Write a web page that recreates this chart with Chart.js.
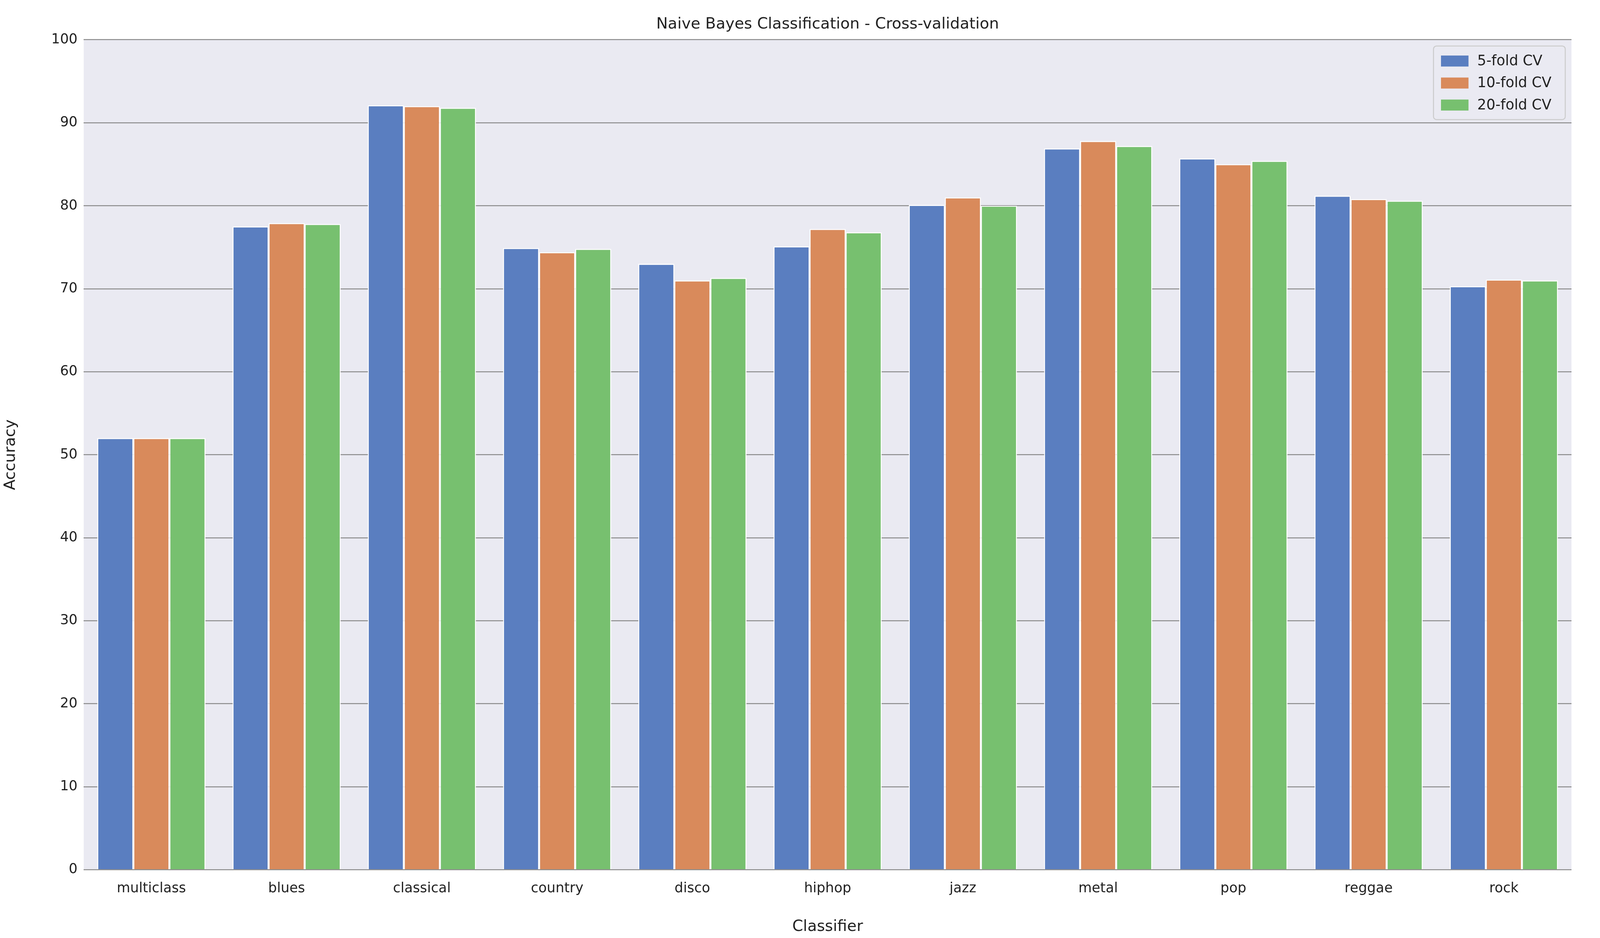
<!DOCTYPE html>
<html><head><meta charset="utf-8">
<script src="https://cdn.jsdelivr.net/npm/chart.js@4"></script>
<style>html,body{margin:0;padding:0;background:#fff;overflow:hidden}#wrap{width:100vw;height:100vh;position:relative}</style>
</head><body>
<div id="wrap"><canvas id="c"></canvas></div>
<script>
const categories = ["multiclass","blues","classical","country","disco","hiphop","jazz","metal","pop","reggae","rock"];
const fold5 =  [52.0,77.5,92.1,74.9,73.0,75.1,80.1,86.9,85.7,81.2,70.3];
const fold10 = [52.0,77.9,92.0,74.4,71.0,77.2,81.0,87.8,85.0,80.8,71.1];
const fold20 = [52.0,77.8,91.8,74.8,71.3,76.8,80.0,87.2,85.4,80.6,71.0];
const seriesNames = ["5-fold CV","10-fold CV","20-fold CV"];
const colors = ["#5A7EC0","#D98A5B","#77C06F"];
const FONT = "'DejaVu Sans', sans-serif";
const S = window.innerWidth/6400;

const bgPlugin = {
  id:'bg',
  beforeDraw(chart){
    const {ctx, chartArea:a} = chart;
    ctx.save(); ctx.fillStyle='#EAEAF2';
    ctx.fillRect(a.left,a.top,a.right-a.left,a.bottom-a.top); ctx.restore();
  },
  afterDraw(chart){
    const {ctx, chartArea:a} = chart;
    ctx.save();
    ctx.fillStyle='#222'; ctx.font=(62*S)+'px '+FONT; ctx.textAlign='center'; ctx.textBaseline='middle';
    ctx.fillText('Naive Bayes Classification - Cross-validation',(a.left+a.right)/2,98*S);
    const w=527*S,h=294*S,x=a.right-w-25*S,y=a.top+25*S;
    ctx.fillStyle='rgba(234,234,242,0.85)'; ctx.strokeStyle='#cccccc'; ctx.lineWidth=4*S;
    ctx.beginPath(); ctx.roundRect(x,y,w,h,12*S); ctx.fill(); ctx.stroke();
    ctx.font=(57*S)+'px '+FONT; ctx.textAlign='left';
    chart.data.datasets.forEach((ds,i)=>{
      const yy=y+60*S+i*88*S;
      ctx.fillStyle=ds.backgroundColor; ctx.fillRect(x+30*S,yy-22*S,110*S,44*S);
      ctx.fillStyle='#222'; ctx.fillText(ds.label,x+175*S,yy+2*S);
    });
    ctx.restore();
  }
};

new Chart(document.getElementById('c'),{
  type:'bar',
  data:{labels:categories,datasets:[fold5,fold10,fold20].map((d,i)=>({
    label:seriesNames[i],data:d,backgroundColor:colors[i],borderColor:'#ffffff',borderWidth:4*S,
    categoryPercentage:0.8,barPercentage:1.0}))},
  options:{
    responsive:true,maintainAspectRatio:false,animation:false,
    layout:{padding:{top:159*S,right:114*S,left:0,bottom:0}},
    plugins:{legend:{display:false},title:{display:false},tooltip:{enabled:false}},
    scales:{
      x:{grid:{display:false},border:{display:false},
         ticks:{color:'#222',font:{size:55*S,family:FONT},padding:30*S},
         title:{display:true,text:'Classifier',color:'#222',font:{size:62*S,family:FONT},padding:{top:10*S}},
         afterFit(s){s.height=273*S;}},
      y:{min:0,max:100,border:{display:false},
         grid:{color:'#8c8c8c',lineWidth:4*S,drawTicks:false},
         ticks:{stepSize:10,color:'#222',font:{size:55*S,family:FONT},padding:25*S},
         title:{display:true,text:'Accuracy',color:'#222',font:{size:62*S,family:FONT},padding:{bottom:20*S}},
         afterFit(s){s.width=335*S;}}
    }
  },
  plugins:[bgPlugin]
});
</script>
</body></html>
